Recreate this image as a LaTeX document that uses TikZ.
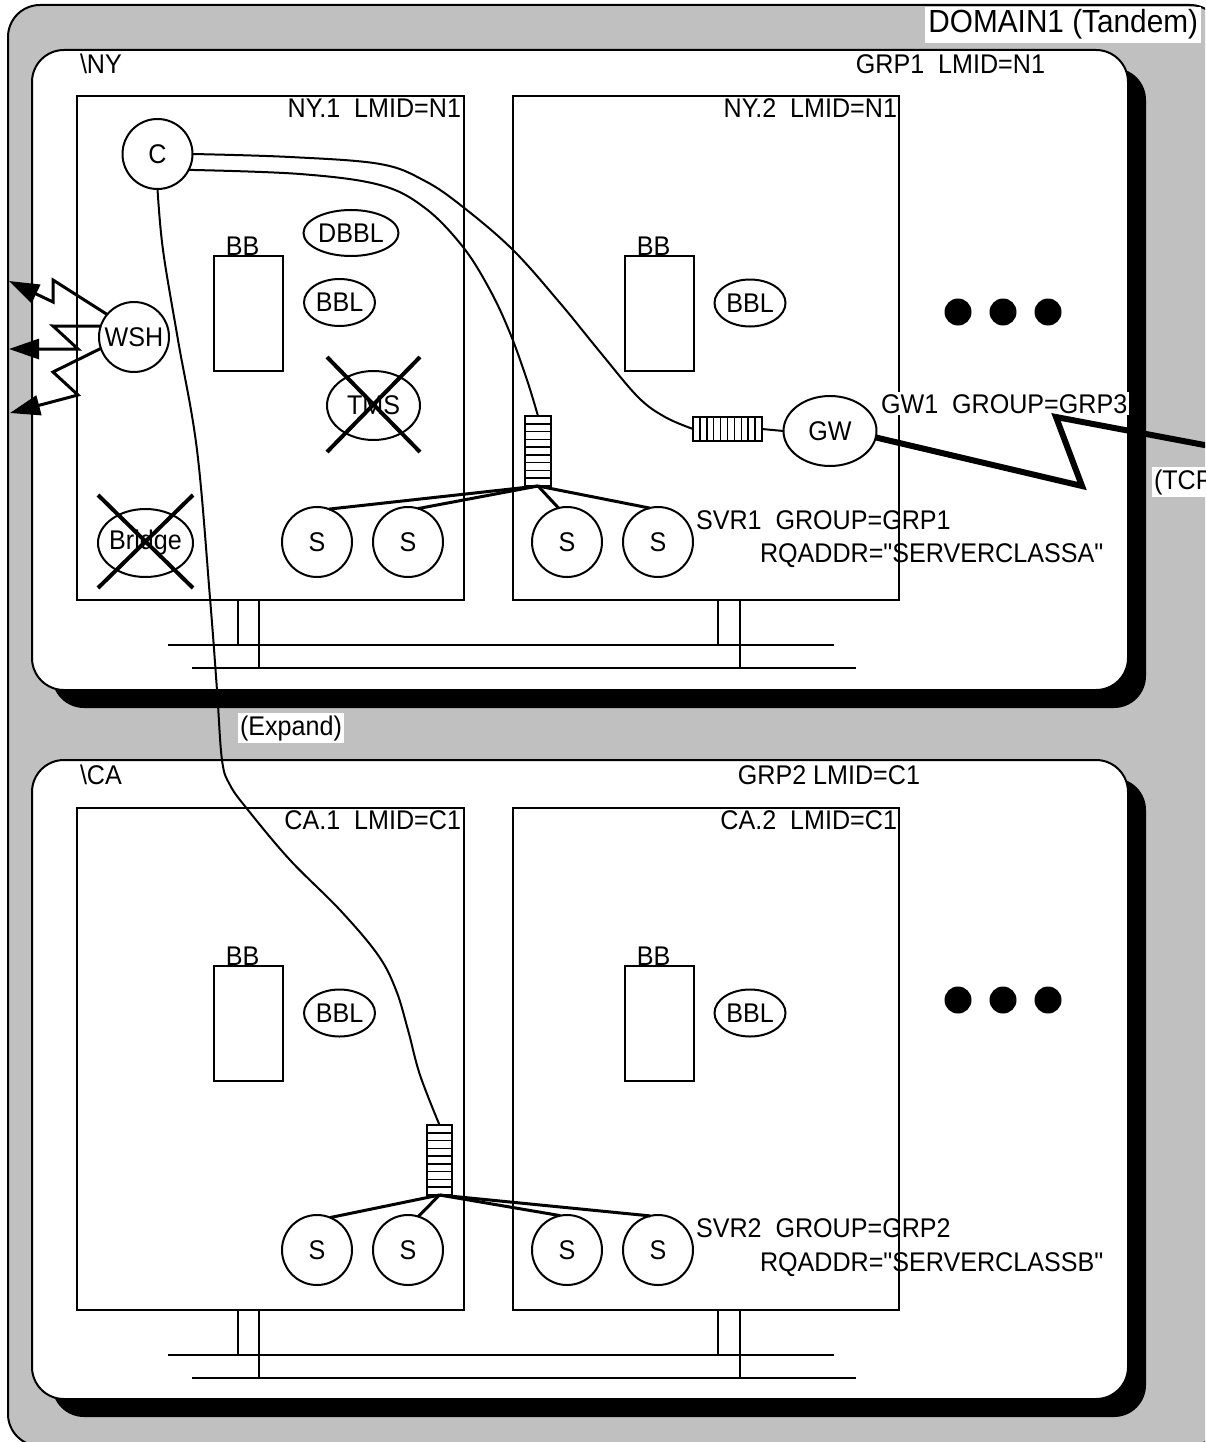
\documentclass[tikz,border=0pt]{standalone}
\usepackage{fontspec}
\setmainfont{Liberation Sans}[Ligatures=TeXOff, FakeStretch=0.93]
\usetikzlibrary{shapes.geometric, arrows.meta, calc}
\definecolor{bggray}{RGB}{192,192,192}
\begin{document}
\begin{tikzpicture}[x=1pt, y=-1pt,
  every node/.style={font=\fontsize{27}{31}\selectfont, inner sep=0pt, outer sep=0pt},
  boxn/.style={draw, line width=2pt, anchor=north west},
  ell/.style={ellipse, draw, line width=2pt},
  circ/.style={circle, draw, line width=2pt, minimum size=70pt},
  queue/.style={draw, line width=2pt, fill=white},
  wire/.style={line width=2pt},
  fan/.style={line width=3pt},
  xmark/.style={line width=4pt},
  bbox/.style={draw, line width=2pt, minimum width=69pt, minimum height=115pt, anchor=north west},
  dot/.style={circle, fill=black, minimum size=27pt},
  lbl/.style={anchor=base west},
  lblr/.style={anchor=base east},
  bbl/.style={anchor=base, yshift=1pt, xshift=-6pt},
  wbg/.style={fill=white, inner sep=2pt},
  zz/.style={line width=3pt, -{Triangle[length=30pt,width=20pt]}},
  panelshadow/.style={fill=black, rounded corners=32pt},
  panel/.style={draw, line width=2pt, fill=white, rounded corners=32pt}
]
\useasboundingbox (0,0) rectangle (1205,1442);
\clip (0,0) rectangle (1205,1442);

% outer domain
\draw[line width=2pt, fill=bggray, rounded corners=32pt] (8,5) rectangle (1222,1446);
\node[wbg, inner sep=3pt, anchor=base east, font=\fontsize{32}{36}\selectfont] (dom) at (1201,33) {DOMAIN1 (Tandem)};

% ================= NY panel =================
\fill[panelshadow] (52,68) rectangle (1146,708);
\draw[panel] (32,50) rectangle (1128,690);
\node[lbl] (nyl) at (80,74) {\textbackslash NY};
\node[lblr] (grp1) at (1045,74) {GRP1\ \ LMID=N1};

\node[boxn, minimum width=387pt, minimum height=504pt] (ny1) at (77,96) {};
\node[boxn, minimum width=386pt, minimum height=504pt] (ny2) at (513,96) {};
\node[lblr] (ny1l) at (461,118) {NY.1\ \ LMID=N1};
\node[lblr] (ny2l) at (897,118) {NY.2\ \ LMID=N1};

% bus NY
\draw[wire] (238,600) -- (238,645);
\draw[wire] (259,600) -- (259,668);
\draw[wire] (718,600) -- (718,645);
\draw[wire] (740,600) -- (740,668);
\draw[wire] (168,645) -- (834,645);
\draw[wire] (192,668) -- (856,668);

% NY.1 content
\node[bbox] (bb1) at (214,256) {};
\node[bbl] (bb1l) at (bb1.north) {BB};
\node[ell, minimum width=95pt, minimum height=46pt, label=center:DBBL] (dbbl) at (351,233) {};
\node[ell, minimum width=71pt, minimum height=47pt, label=center:BBL] (bbl1) at (339.5,302.5) {};
\node[ell, minimum width=93pt, minimum height=69pt, label=center:TMS] (tms) at (373.5,405.5) {};
\draw[xmark] (327,357) -- (420,452);
\draw[xmark] (420,357) -- (327,452);
\node[ell, minimum width=95pt, minimum height=68pt, label=center:Bridge] (bridge) at (145.5,543) {};
\draw[xmark] (98,495) -- (193,588);
\draw[xmark] (193,495) -- (98,588);
\node[circ, fill=white, label=center:C] (c) at (157.5,154) {};
\node[circ, fill=white, label=center:WSH] (wsh) at (134,337) {};
\node[circ, label=center:S] (s1) at (317,542) {};
\node[circ, label=center:S] (s2) at (408,542) {};

% WSH arrows
\coordinate (w1) at (9,281);
\coordinate (w2) at (9,349);
\coordinate (w3) at (10,413);
\draw[zz] (wsh.140) -- (53,280) -- (53,302) -- (w1);
\draw[zz] (wsh.162) -- (53,326) -- (78,349) -- (w2);
\draw[zz] (wsh.199) -- (53,372) -- (78,395) -- (w3);

% NY.2 content
\node[bbox] (bb2) at (625,256) {};
\node[bbl] (bb2l) at (bb2.north) {BB};
\node[ell, minimum width=71pt, minimum height=47pt, label=center:BBL] (bbl2) at (750,303) {};
\node[circ, label=center:S] (s3) at (567,542) {};
\node[circ, label=center:S] (s4) at (658,542) {};
\node[dot] (d1) at (958,312) {};
\node[dot] (d2) at (1003,312) {};
\node[dot] (d3) at (1048,312) {};

\node[queue, minimum width=26pt, minimum height=70pt] (q1) at (538,451) {};
\foreach \i in {1,...,8}
  \draw[line width=1.5pt] ($(q1.north west)!{\i/9}!(q1.south west)$) -- ($(q1.north east)!{\i/9}!(q1.south east)$);
\node[queue, minimum width=69pt, minimum height=24pt] (q2) at (727.5,429) {};
\foreach \i in {1,...,9}
  \draw[line width=1.5pt] ($(q2.north west)!{\i/10}!(q2.north east)$) -- ($(q2.south west)!{\i/10}!(q2.south east)$);
\node[ell, minimum width=93pt, minimum height=70pt, label=center:GW] (gw) at (830,431) {};
\draw[wire] (q2.east) -- (gw.west);

\draw[fan] (q1.south) -- (s1.70);
\draw[fan] (q1.south) -- (s2.73);
\draw[fan] (q1.south) -- (s3.104);
\draw[fan] (q1.south) -- (s4.104);

\node[lbl] (svr1) at (696,529) {SVR1\ \ GROUP=GRP1};
\node[lbl] (rq1) at (760,562) {RQADDR="SERVERCLASSA"};
\node[wbg, anchor=base west] (gwl) at (879,413) {GW1\ \ GROUP=GRP3};
\node[wbg, anchor=base west] (tcp) at (1152,489) {(TCP};
\coordinate (tcpend) at (1215,447);
\draw[line width=6pt] (gw.-8) -- (1082,486) -- (1056,417) -- (tcpend);

% ================= CA panel =================
\fill[panelshadow] (52,778) rectangle (1146,1417);
\draw[panel] (32,760) rectangle (1128,1399);
\node[lbl] (cal) at (80,784) {\textbackslash CA};
\node[lblr] (grp2) at (920,784) {GRP2 LMID=C1};

\node[boxn, minimum width=387pt, minimum height=502pt] (ca1) at (77,808) {};
\node[boxn, minimum width=386pt, minimum height=502pt] (ca2) at (513,808) {};
\node[lblr] (ca1l) at (461,829) {CA.1\ \ LMID=C1};
\node[lblr] (ca2l) at (897,829) {CA.2\ \ LMID=C1};

% bus CA
\draw[wire] (238,1310) -- (238,1355);
\draw[wire] (259,1310) -- (259,1378);
\draw[wire] (718,1310) -- (718,1355);
\draw[wire] (740,1310) -- (740,1378);
\draw[wire] (168,1355) -- (834,1355);
\draw[wire] (192,1378) -- (856,1378);

\node[bbox] (bb3) at (214,966) {};
\node[bbl] (bb3l) at (bb3.north) {BB};
\node[ell, minimum width=71pt, minimum height=47pt, label=center:BBL] (bbl3) at (339.5,1013) {};
\node[bbox] (bb4) at (625,966) {};
\node[bbl] (bb4l) at (bb4.north) {BB};
\node[ell, minimum width=71pt, minimum height=47pt, label=center:BBL] (bbl4) at (750,1013) {};
\node[dot] (d4) at (958,1000) {};
\node[dot] (d5) at (1003,1000) {};
\node[dot] (d6) at (1048,1000) {};

\node[circ, label=center:S] (s5) at (317,1250) {};
\node[circ, label=center:S] (s6) at (408,1250) {};
\node[circ, label=center:S] (s7) at (567,1250) {};
\node[circ, label=center:S] (s8) at (658,1250) {};

\node[queue, minimum width=25pt, minimum height=70pt] (q3) at (439.5,1160) {};
\foreach \i in {1,...,8}
  \draw[line width=1.5pt] ($(q3.north west)!{\i/9}!(q3.south west)$) -- ($(q3.north east)!{\i/9}!(q3.south east)$);
\draw[fan] (q3.south) -- (s5.68);
\draw[fan] (q3.south) -- (s6.73);
\draw[fan] (q3.south) -- (s7.101);
\draw[fan] (q3.south) -- (s8.103);

\node[lbl] (svr2) at (696,1237) {SVR2\ \ GROUP=GRP2};
\node[lbl] (rq2) at (760,1271) {RQADDR="SERVERCLASSB"};

% ================= curves from C =================
\draw[wire] plot[smooth, tension=0.6] coordinates {(c.east) (290,157) (380,164) (425,181) (463,207) (513,250) (560,303) (600,352) (638,397) (665,417) (q2.west)};
\draw[wire] plot[smooth, tension=0.6] coordinates {(c.-27) (300,174) (380,185) (425,208) (463,247) (490,290) (510,333) (527,380) (q1.north)};
\draw[wire] plot[smooth, tension=0.6] coordinates {(c.south) (163,250) (178,340) (197,450) (210,598) (217,690) (222,760) (230,785) (248,810) (290,860) (340,910) (378,955) (396,990) (408,1030) (420,1075) (q3.north)};
\node[wbg, anchor=base west] (exp) at (238,735) {(Expand)};

\end{tikzpicture}
\end{document}
